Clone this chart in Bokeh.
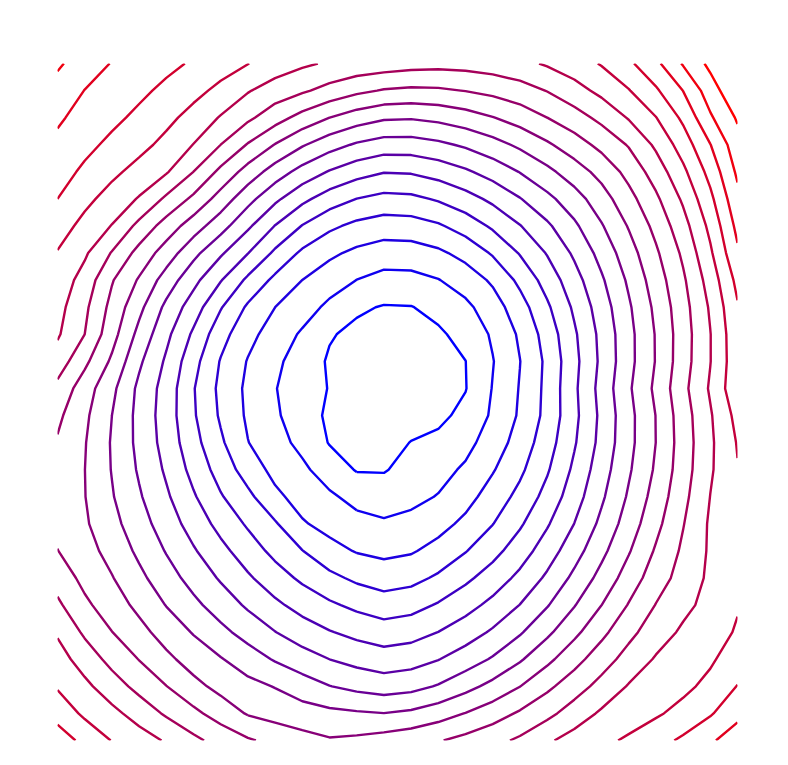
import math
import numpy as np
from bokeh.plotting import figure
from bokeh.embed import file_html
from bokeh.resources import INLINE
from bokeh.models import Range1d

# Contour positions: distance (px) from the centre of the
# innermost ring to contour levels 1..20, measured along several directions
# (degrees, counter-clockwise from east).
center_px = (392.0, 388.0)
ring_angles = [0, 22.5, 45, 67.5, 90, 112.5, 135, 157.5, 172, 180,
               202.5, 225, 247.5, 260, 270, 292.5, 315, 326, 337.5]
ring_000 = [76, 99, 126, 150, 168, 185, 203, 220, 239, 260, 276, 296, 316, 331, 350, 368, 386, 404, 422, 440]
ring_022 = [79, 108, 135, 157, 176, 195, 215, 235, 255, 275, 295, 315, 332, 347, 360, 373, 385, 408, 426, 444]
ring_045 = [82, 117, 144, 164, 184, 206, 228, 250, 272, 294, 316, 338, 358, 378, 397, 415, 428, 449, 466, 483]
ring_067 = [85, 119, 148, 170, 190, 211, 231, 251, 271, 290, 310, 334, 356, 390, 420, 445, 470, 495, 520, 545]
ring_090 = [88, 121, 151, 176, 197, 217, 235, 253, 270, 285, 300, 315, 335, 355, 375, 395, 415, 435, 455, 475]
ring_112 = [85, 113, 145, 170, 189, 207, 224, 241, 257, 273, 289, 305, 333, 356, 390, 440, 470, 500, 530, 560]
ring_135 = [82, 106, 140, 165, 181, 197, 213, 229, 245, 261, 277, 293, 309, 339, 378, 430, 462, 500, 540, 580]
ring_157 = [77, 111, 146, 172, 190, 206, 224, 244, 260, 278, 300, 316, 333, 363, 388, 415, 445, 475, 505, 535]
ring_172 = [70, 114, 150, 176, 195, 212, 230, 250, 265, 280, 295, 312, 336, 365, 392, 418, 445, 472, 500, 525]
ring_180 = [66, 116, 152, 178, 198, 215, 234, 259, 276, 295, 322, 340, 360, 390, 415, 440, 465, 490, 515, 540]
ring_202 = [82, 114, 154, 176, 200, 222, 245, 272, 300, 330, 372, 392, 410, 432, 456, 480, 505, 530, 555, 580]
ring_225 = [89, 112, 156, 173, 202, 229, 257, 286, 315, 343, 371, 399, 421, 455, 474, 500, 526, 552, 578, 604]
ring_247 = [95, 121, 165, 190, 217, 245, 272, 298, 321, 360, 378, 400, 420, 442, 465, 490, 515, 540, 565, 590]
ring_260 = [90, 130, 170, 199, 225, 253, 280, 305, 323, 356, 372, 392, 412, 433, 455, 478, 500, 523, 545, 568]
ring_270 = [84, 130, 174, 206, 232, 260, 287, 310, 325, 342, 362, 380, 400, 420, 440, 460, 480, 500, 520, 540]
ring_292 = [50, 116, 152, 181, 207, 234, 260, 284, 305, 325, 345, 370, 388, 410, 435, 460, 485, 510, 535, 560]
ring_315 = [64, 103, 133, 162, 188, 211, 234, 256, 278, 300, 322, 345, 372, 430, 458, 480, 505, 530, 555, 580]
ring_326 = [67, 101, 130, 157, 181, 202, 224, 245, 266, 288, 309, 335, 370, 418, 450, 480, 505, 530, 555, 580]
ring_337 = [70, 100, 128, 153, 174, 194, 214, 234, 255, 277, 297, 318, 339, 373, 405, 435, 465, 495, 525, 555]

levels = list(range(1, 19))
level_colors = []
for k in levels:
    t = (k - 1) / 17
    level_colors.append("#%02x%02x%02x" % (round(255 * t), 0, round(255 * (1 - t))))

# plot frame in page pixels (maps the measured rings onto the 26x26 grid)
frame_left, frame_right, frame_top, frame_bottom = 57, 737, 63, 740
ncell = 25

profiles = [ring_000, ring_022, ring_045, ring_067, ring_090, ring_112, ring_135, ring_157,
            ring_172, ring_180, ring_202, ring_225, ring_247, ring_260, ring_270, ring_292,
            ring_315, ring_326, ring_337]
angs = ring_angles + [360]
profs = profiles + [ring_000]


def level_at(px, py):
    dx, dy = px - center_px[0], center_px[1] - py
    d = math.hypot(dx, dy)
    th = math.degrees(math.atan2(dy, dx)) % 360
    for j in range(len(angs) - 1):
        if angs[j] <= th <= angs[j + 1]:
            w = (th - angs[j]) / (angs[j + 1] - angs[j])
            R = [(1 - w) * u + w * v for u, v in zip(profs[j], profs[j + 1])]
            break
    if d < R[0]:
        return d / R[0]
    for k in range(1, len(R)):
        if d < R[k]:
            return k + (d - R[k - 1]) / (R[k] - R[k - 1])
    return float(len(R))


xs = list(range(ncell + 1))
ys = list(range(ncell + 1))
Z = np.zeros((ncell + 1, ncell + 1))
for r in ys:
    py = frame_bottom - r * (frame_bottom - frame_top) / ncell
    for i in xs:
        px = frame_left + i * (frame_right - frame_left) / ncell
        Z[r, i] = level_at(px, py)

p = figure(width=772, height=745, output_backend="svg", toolbar_location=None,
           min_border_left=57, min_border_right=35, min_border_top=63, min_border_bottom=5,
           x_range=Range1d(0, ncell), y_range=Range1d(0, ncell))
p.axis.visible = False
p.grid.visible = False
p.outline_line_color = None
p.background_fill_color = "white"
p.border_fill_color = "white"
p.contour(x=xs, y=ys, z=Z, levels=levels, line_color=level_colors, line_width=2.4, fill_color=None)

open("out.html", "w").write(file_html(p, INLINE))
